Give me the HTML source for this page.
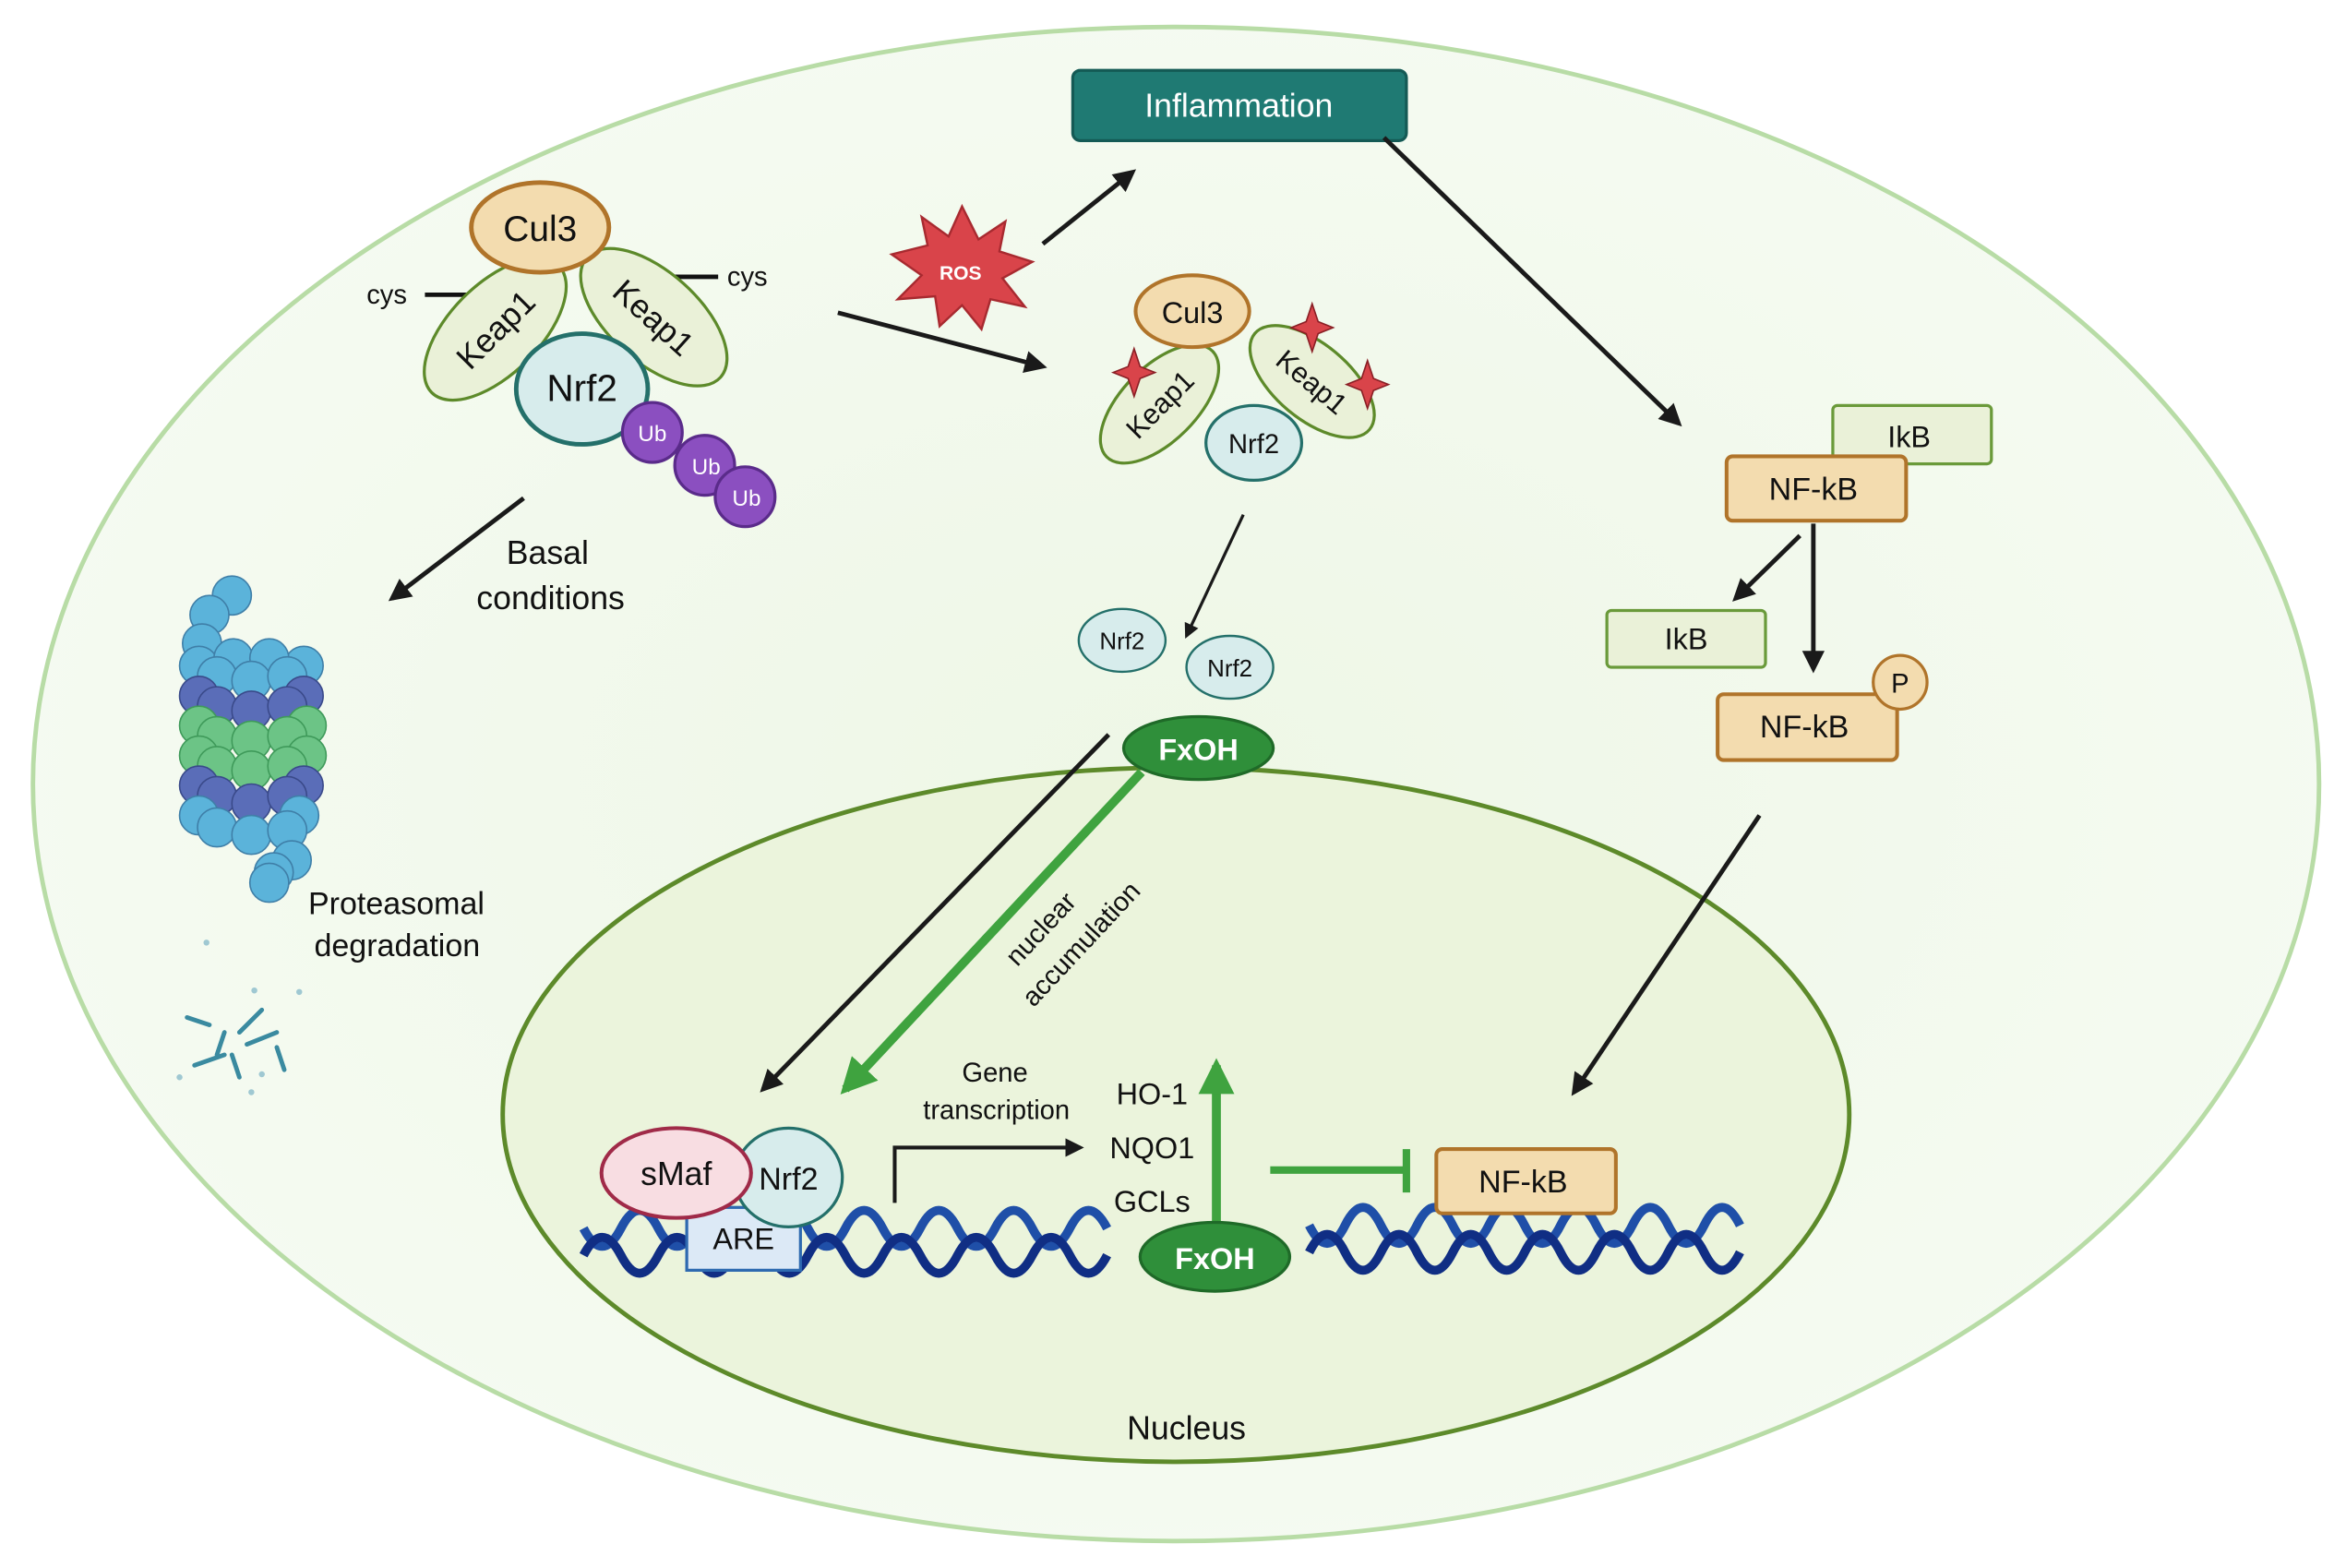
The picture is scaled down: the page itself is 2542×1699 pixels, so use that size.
<!DOCTYPE html>
<html><head><meta charset="utf-8"><style>
html,body{margin:0;padding:0;background:#fff}
svg{display:block}
text{font-family:"Liberation Sans",Arial,sans-serif}
</style></head><body>
<svg width="2542" height="1699" viewBox="0 0 1568 1048" xmlns="http://www.w3.org/2000/svg">
<defs>
<marker id="ab" viewBox="0 0 10 10" refX="8" refY="5" markerWidth="5" markerHeight="5" orient="auto"><path d="M0,0 L10,5 L0,10 Z" fill="#1a1a1a"/></marker>
<marker id="ag" viewBox="0 0 10 10" refX="8" refY="5" markerWidth="4" markerHeight="4" orient="auto"><path d="M0,0 L10,5 L0,10 Z" fill="#3fa33f"/></marker>
<radialGradient id="cell" cx="50%" cy="50%" r="60%"><stop offset="0" stop-color="#eef7e6"/><stop offset="1" stop-color="#f6fbf3"/></radialGradient>
</defs>
<rect width="1568" height="1048" fill="#fff"/>
<ellipse cx="786" cy="524" rx="764" ry="506" fill="url(#cell)" stroke="#b8dca6" stroke-width="3"/>
<ellipse cx="786" cy="745" rx="450" ry="232" fill="#ebf4dc" stroke="#5d8a2a" stroke-width="3"/>
<text x="793" y="962" font-size="22" text-anchor="middle" fill="#111">Nucleus</text>

<!-- Inflammation -->
<rect x="717" y="47" width="223" height="47" rx="5" fill="#1f7a73" stroke="#145a55" stroke-width="2"/>
<text x="828" y="78" font-size="22" fill="#fff" text-anchor="middle">Inflammation</text>

<!-- Left complex -->
<line x1="284" y1="197" x2="318" y2="197" stroke="#111" stroke-width="3"/>
<text x="245" y="203" font-size="18" fill="#111">cys</text>
<line x1="448" y1="185" x2="480" y2="185" stroke="#111" stroke-width="3"/>
<text x="486" y="191" font-size="18" fill="#111">cys</text>
<ellipse cx="331" cy="220" rx="60" ry="30" transform="rotate(-45 331 220)" fill="#eaf1d8" stroke="#5d8a2a" stroke-width="2"/>
<text x="331" y="228" font-size="22" text-anchor="middle" transform="rotate(-45 331 220)" fill="#111">Keap1</text>
<ellipse cx="437" cy="212" rx="60" ry="30" transform="rotate(42 437 212)" fill="#eaf1d8" stroke="#5d8a2a" stroke-width="2"/>
<text x="437" y="220" font-size="22" text-anchor="middle" transform="rotate(42 437 212)" fill="#111">Keap1</text>
<ellipse cx="361" cy="152" rx="46" ry="30" fill="#f3dcaf" stroke="#b0742a" stroke-width="3"/>
<text x="361" y="161" font-size="24" text-anchor="middle" fill="#111">Cul3</text>
<ellipse cx="389" cy="260" rx="44" ry="37" fill="#d7ecec" stroke="#24706a" stroke-width="3"/>
<text x="389" y="268" font-size="25" text-anchor="middle" fill="#111">Nrf2</text>
<g fill="#8b4fc0" stroke="#5a2b8a" stroke-width="2">
<circle cx="436" cy="289" r="20"/><circle cx="471" cy="311" r="20"/><circle cx="498" cy="332" r="20"/></g>
<g fill="#fff" font-size="15" text-anchor="middle"><text x="436" y="295">Ub</text><text x="472" y="317">Ub</text><text x="499" y="338">Ub</text></g>

<!-- Basal -->
<line x1="350" y1="333" x2="262" y2="400" stroke="#1a1a1a" stroke-width="3" marker-end="url(#ab)"/>
<text x="366" y="377" font-size="22" text-anchor="middle" fill="#111">Basal</text>
<text x="368" y="407" font-size="22" text-anchor="middle" fill="#111">conditions</text>

<!-- Proteasome -->
<g stroke="#3f7fa8" stroke-width="1">
<circle cx="155" cy="398" r="13" fill="#5bb3da"/><circle cx="140" cy="411" r="13" fill="#5bb3da"/>
<circle cx="135" cy="430" r="13" fill="#5bb3da"/>
</g>
<g stroke-width="1">
<g fill="#5bb3da" stroke="#3f7fa8"><circle cx="133" cy="445" r="13"/><circle cx="203" cy="445" r="13"/><circle cx="156" cy="440" r="13"/><circle cx="180" cy="440" r="13"/><circle cx="145" cy="452" r="13"/><circle cx="168" cy="455" r="13"/><circle cx="192" cy="452" r="13"/></g>
<g fill="#5a6db8" stroke="#3a4a8a"><circle cx="133" cy="465" r="13"/><circle cx="203" cy="465" r="13"/><circle cx="145" cy="472" r="13"/><circle cx="168" cy="475" r="13"/><circle cx="192" cy="472" r="13"/></g>
<g fill="#6cc486" stroke="#3f9a5a"><circle cx="133" cy="485" r="13"/><circle cx="205" cy="485" r="13"/><circle cx="145" cy="492" r="13"/><circle cx="168" cy="495" r="13"/><circle cx="192" cy="492" r="13"/>
<circle cx="133" cy="505" r="13"/><circle cx="205" cy="505" r="13"/><circle cx="145" cy="512" r="13"/><circle cx="168" cy="515" r="13"/><circle cx="192" cy="512" r="13"/></g>
<g fill="#5a6db8" stroke="#3a4a8a"><circle cx="133" cy="525" r="13"/><circle cx="203" cy="525" r="13"/><circle cx="145" cy="532" r="13"/><circle cx="168" cy="537" r="13"/><circle cx="192" cy="532" r="13"/></g>
<g fill="#5bb3da" stroke="#3f7fa8"><circle cx="133" cy="545" r="13"/><circle cx="200" cy="545" r="13"/><circle cx="145" cy="553" r="13"/><circle cx="168" cy="558" r="13"/><circle cx="192" cy="555" r="13"/>
<circle cx="195" cy="575" r="13"/><circle cx="183" cy="583" r="13"/><circle cx="180" cy="590" r="13"/></g>
</g>
<text x="206" y="611" font-size="21" fill="#111">Proteasomal</text>
<text x="210" y="639" font-size="21" fill="#111">degradation</text>
<g stroke="#3a8aa0" stroke-width="3" fill="none" stroke-linecap="round">
<path d="M125 680 L140 685"/><path d="M150 690 L145 705"/><path d="M160 690 L175 675"/><path d="M165 698 L185 690"/><path d="M130 712 L150 705"/><path d="M185 700 L190 715"/><path d="M155 705 L160 720"/></g>
<g fill="#9fc8d2"><circle cx="138" cy="630" r="2"/><circle cx="170" cy="662" r="2"/><circle cx="200" cy="663" r="2"/><circle cx="120" cy="720" r="2"/><circle cx="175" cy="718" r="2"/><circle cx="168" cy="730" r="2"/></g>

<!-- ROS -->
<path d="M643 138 L654 160 L672 148 L668 168 L690 175 L670 186 L685 205 L662 200 L656 220 L643 204 L628 218 L625 198 L600 200 L616 184 L596 170 L620 164 L616 145 L634 158 Z" fill="#d9444a" stroke="#a82a30" stroke-width="1.5"/>
<text x="642" y="187" font-size="13" font-weight="bold" fill="#fff" text-anchor="middle">ROS</text>
<line x1="697" y1="163" x2="757" y2="115" stroke="#1a1a1a" stroke-width="3" marker-end="url(#ab)"/>
<line x1="560" y1="209" x2="697" y2="245" stroke="#1a1a1a" stroke-width="3" marker-end="url(#ab)"/>
<line x1="925" y1="92" x2="1122" y2="283" stroke="#1a1a1a" stroke-width="3" marker-end="url(#ab)"/>

<!-- Middle complex -->
<ellipse cx="775" cy="270" rx="50" ry="25" transform="rotate(-45 775 270)" fill="#eaf1d8" stroke="#5d8a2a" stroke-width="2"/>
<text x="775" y="277" font-size="19" text-anchor="middle" transform="rotate(-45 775 270)" fill="#111">Keap1</text>
<ellipse cx="877" cy="255" rx="50" ry="25" transform="rotate(40 877 255)" fill="#eaf1d8" stroke="#5d8a2a" stroke-width="2"/>
<text x="877" y="262" font-size="19" text-anchor="middle" transform="rotate(40 877 255)" fill="#111">Keap1</text>
<ellipse cx="797" cy="208" rx="38" ry="24" fill="#f3dcaf" stroke="#b0742a" stroke-width="2.5"/>
<text x="797" y="216" font-size="20" text-anchor="middle" fill="#111">Cul3</text>
<ellipse cx="838" cy="296" rx="32" ry="25" fill="#d7ecec" stroke="#24706a" stroke-width="2"/>
<text x="838" y="303" font-size="18" text-anchor="middle" fill="#111">Nrf2</text>
<g fill="#d9444a" stroke="#8a1f25" stroke-width="1">
<path d="M758 233 L762 245 L772 249 L762 253 L758 265 L754 253 L744 249 L754 245 Z"/>
<path d="M877 203 L881 215 L891 219 L881 223 L877 235 L873 223 L863 219 L873 215 Z"/>
<path d="M914 241 L918 253 L928 257 L918 261 L914 273 L910 261 L900 257 L910 253 Z"/></g>
<line x1="831" y1="344" x2="793" y2="425" stroke="#1a1a1a" stroke-width="2" marker-end="url(#ab)"/>
<ellipse cx="750" cy="428" rx="29" ry="21" fill="#d7ecec" stroke="#24706a" stroke-width="1.5"/>
<text x="750" y="434" font-size="16" text-anchor="middle" fill="#111">Nrf2</text>
<ellipse cx="822" cy="446" rx="29" ry="21" fill="#d7ecec" stroke="#24706a" stroke-width="1.5"/>
<text x="822" y="452" font-size="16" text-anchor="middle" fill="#111">Nrf2</text>

<!-- arrows into nucleus -->
<line x1="741" y1="491" x2="510" y2="728" stroke="#1a1a1a" stroke-width="3" marker-end="url(#ab)"/>
<line x1="763" y1="516" x2="565" y2="728" stroke="#3fa33f" stroke-width="6" marker-end="url(#ag)"/>
<ellipse cx="801" cy="500" rx="50" ry="21" fill="#2f8f3a" stroke="#1f6a28" stroke-width="2"/>
<text x="801" y="508" font-size="20" font-weight="bold" fill="#fff" text-anchor="middle">FxOH</text>
<text transform="translate(700 625) rotate(-47)" font-size="18" text-anchor="middle" fill="#111">nuclear</text>
<text transform="translate(727 635) rotate(-47)" font-size="18" text-anchor="middle" fill="#111">accumulation</text>

<!-- NF-kB cytoplasm -->
<rect x="1225" y="271" width="106" height="39" rx="3" fill="#eaf1d8" stroke="#6a9a3a" stroke-width="2"/>
<text x="1276" y="299" font-size="20" text-anchor="middle" fill="#111">IkB</text>
<rect x="1154" y="305" width="120" height="43" rx="4" fill="#f3dcaf" stroke="#b0742a" stroke-width="2.5"/>
<text x="1212" y="334" font-size="21" text-anchor="middle" fill="#111">NF-kB</text>
<line x1="1203" y1="358" x2="1160" y2="400" stroke="#1a1a1a" stroke-width="3" marker-end="url(#ab)"/>
<line x1="1212" y1="350" x2="1212" y2="447" stroke="#1a1a1a" stroke-width="3" marker-end="url(#ab)"/>
<rect x="1074" y="408" width="106" height="38" rx="3" fill="#eaf1d8" stroke="#6a9a3a" stroke-width="2"/>
<text x="1127" y="434" font-size="20" text-anchor="middle" fill="#111">IkB</text>
<rect x="1148" y="464" width="120" height="44" rx="4" fill="#f3dcaf" stroke="#b0742a" stroke-width="2.5"/>
<text x="1206" y="493" font-size="21" text-anchor="middle" fill="#111">NF-kB</text>
<circle cx="1270" cy="456" r="18" fill="#f3dcaf" stroke="#b0742a" stroke-width="2"/>
<text x="1270" y="463" font-size="18" text-anchor="middle" fill="#111">P</text>
<line x1="1176" y1="545" x2="1052" y2="730" stroke="#1a1a1a" stroke-width="3" marker-end="url(#ab)"/>

<!-- DNA left -->
<g fill="none" stroke-width="6">
<path d="M390 818 q12.5 24 25 0 t25 0 t25 0 t25 0 t25 0 t25 0 t25 0 t25 0 t25 0 t25 0 t25 0 t25 0 t25 0 t25 0" stroke="#1f4fa8" transform="translate(0 3)"/>
<path d="M390 842 q12.5 -24 25 0 t25 0 t25 0 t25 0 t25 0 t25 0 t25 0 t25 0 t25 0 t25 0 t25 0 t25 0 t25 0 t25 0" stroke="#102e84" transform="translate(0 -3)"/>
<path d="M875 816 q12 24 24 0 t24 0 t24 0 t24 0 t24 0 t24 0 t24 0 t24 0 t24 0 t24 0 t24 0 t24 0" stroke="#1f4fa8" transform="translate(0 3)"/>
<path d="M875 840 q12 -24 24 0 t24 0 t24 0 t24 0 t24 0 t24 0 t24 0 t24 0 t24 0 t24 0 t24 0 t24 0" stroke="#102e84" transform="translate(0 -3)"/>
</g>
<rect x="459" y="807" width="76" height="42" fill="#dce9f6" stroke="#2e6ab0" stroke-width="2"/>
<text x="497" y="835" font-size="20" text-anchor="middle" fill="#111">ARE</text>
<ellipse cx="527" cy="787" rx="36" ry="33" fill="#d7ecec" stroke="#24706a" stroke-width="2"/>
<text x="527" y="795" font-size="21" text-anchor="middle" fill="#111">Nrf2</text>
<ellipse cx="452" cy="784" rx="50" ry="30" fill="#f8dde2" stroke="#a02a48" stroke-width="2.5"/>
<text x="452" y="792" font-size="22" text-anchor="middle" fill="#111">sMaf</text>
<path d="M598 804 V767 H722" fill="none" stroke="#1a1a1a" stroke-width="2.5" marker-end="url(#ab)"/>
<text x="665" y="723" font-size="18" text-anchor="middle" fill="#111">Gene</text>
<text x="666" y="748" font-size="18" text-anchor="middle" fill="#111">transcription</text>
<text x="770" y="738" font-size="20" text-anchor="middle" fill="#111">HO-1</text>
<text x="770" y="774" font-size="20" text-anchor="middle" fill="#111">NQO1</text>
<text x="770" y="810" font-size="20" text-anchor="middle" fill="#111">GCLs</text>
<line x1="813" y1="822" x2="813" y2="712" stroke="#3fa33f" stroke-width="6" marker-end="url(#ag)"/>
<ellipse cx="812" cy="840" rx="50" ry="23" fill="#2f8f3a" stroke="#1f6a28" stroke-width="2"/>
<text x="812" y="848" font-size="20" font-weight="bold" fill="#fff" text-anchor="middle">FxOH</text>
<line x1="849" y1="782" x2="940" y2="782" stroke="#3fa33f" stroke-width="5"/>
<line x1="940" y1="768" x2="940" y2="797" stroke="#3fa33f" stroke-width="5"/>
<rect x="960" y="768" width="120" height="43" rx="4" fill="#f3dcaf" stroke="#b0742a" stroke-width="2.5"/>
<text x="1018" y="797" font-size="21" text-anchor="middle" fill="#111">NF-kB</text>
</svg>
</body></html>
